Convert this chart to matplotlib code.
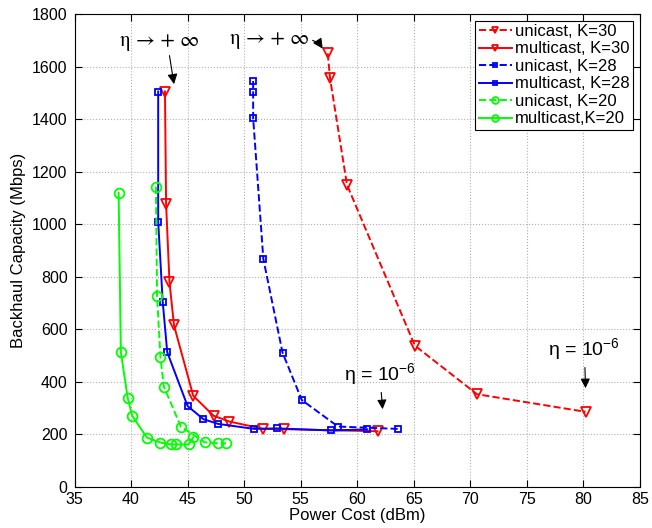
import matplotlib
matplotlib.use('Agg')
import matplotlib.pyplot as plt

plt.rcParams['font.family'] = ['Liberation Sans', 'DejaVu Sans']
plt.rcParams['mathtext.fontset'] = 'custom'
plt.rcParams['mathtext.rm'] = 'Liberation Sans'
plt.rcParams['mathtext.it'] = 'Liberation Sans:italic'

# data (power cost dBm, backhaul capacity Mbps)
uni30_x = [57.4, 57.6, 59.1, 65.1, 70.6, 80.2]
uni30_y = [1650, 1555, 1150, 538, 353, 286]

multi30_x = [43.0, 43.1, 43.4, 43.8, 45.5, 47.3, 48.7, 51.7, 53.5, 61.8]
multi30_y = [1505, 1077, 779, 615, 347, 271, 249, 221, 220, 212]

uni28_x = [50.8, 50.8, 50.8, 51.7, 53.4, 55.1, 58.3, 63.6]
uni28_y = [1545, 1502, 1404, 868, 511, 331, 230, 221]

multi28_x = [42.4, 42.4, 42.8, 43.2, 45.0, 46.4, 47.7, 50.9, 52.9, 57.7, 60.9]
multi28_y = [1505, 1010, 705, 513, 308, 258, 240, 221, 223, 215, 219]

uni20_x = [42.2, 42.3, 42.6, 42.9, 44.4, 46.5, 47.7, 48.4]
uni20_y = [1143, 728, 494, 382, 230, 170, 166, 166]

multi20_x = [38.9, 39.1, 39.7, 40.1, 41.4, 42.6, 43.5, 44.0, 45.1, 45.5]
multi20_y = [1120, 512, 340, 271, 188, 169, 162, 162, 162, 189]

fig = plt.figure(figsize=(6.52, 5.28), dpi=100)
ax = fig.add_axes([0.1143, 0.0777, 0.867, 0.8958])

lw = 1.4
ax.plot(uni30_x, uni30_y, 'r--v', lw=lw, ms=7, mfc='none', mew=1.3, label='unicast, K=30')
ax.plot(multi30_x, multi30_y, 'r-v', lw=lw, ms=7, mfc='none', mew=1.3, label='multicast, K=30')
ax.plot(uni28_x, uni28_y, 'b--s', lw=lw, ms=5, mfc='none', mew=1.3, label='unicast, K=28')
ax.plot(multi28_x, multi28_y, 'b-s', lw=lw, ms=5, mfc='none', mew=1.3, label='multicast, K=28')
ax.plot(uni20_x, uni20_y, '--o', color=(0, 1, 0), lw=lw, ms=7, mfc='none', mew=1.3,
        label='unicast, K=20')
ax.plot(multi20_x, multi20_y, '-o', color=(0, 1, 0), lw=lw, ms=7, mfc='none', mew=1.3,
        label='multicast,K=20')

ax.set_xlim(35, 85)
ax.set_ylim(0, 1800)
ax.set_xticks(range(35, 86, 5))
ax.set_yticks(range(0, 1801, 200))
ax.grid(True, linestyle=':', color='#b0b0b0', lw=0.8)
ax.tick_params(direction='in', top=True, right=True, labelsize=11.5, length=5)
ax.tick_params(axis='y', pad=5)
for s in ax.spines.values():
    s.set_linewidth(0.8)

ax.set_xlabel('Power Cost (dBm)', fontsize=12, labelpad=1)
ax.set_ylabel('Backhaul Capacity (Mbps)', fontsize=12, labelpad=4)

# annotations
serif = ['STIXGeneral', 'DejaVu Serif']
ax.annotate('η → + ∞', xy=(43.8, 1533), xytext=(42.5, 1695),
            fontsize=15, ha='center', va='center', family=serif,
            arrowprops=dict(arrowstyle='-|>', color='k', lw=0.8, shrinkA=1, shrinkB=0,
                            relpos=(0.6, 0.5)))
ax.annotate('η → + ∞', xy=(56.95, 1668), xytext=(52.3, 1705),
            fontsize=15, ha='center', va='center', family=serif,
            arrowprops=dict(arrowstyle='-|>', color='k', lw=0.8, shrinkA=0, shrinkB=0,
                            relpos=(0.95, 0.5), connectionstyle='arc3,rad=-0.25'))
ax.annotate('η = 10$^{-6}$', xy=(80.2, 376), xytext=(80.1, 525),
            fontsize=14, ha='center', va='center',
            arrowprops=dict(arrowstyle='-|>', color='k', lw=0.8, shrinkA=2, shrinkB=0))
ax.annotate('η = 10$^{-6}$', xy=(62.25, 296), xytext=(62.0, 430),
            fontsize=14, ha='center', va='center',
            arrowprops=dict(arrowstyle='-|>', color='k', lw=0.8, shrinkA=2, shrinkB=0))

leg = ax.legend(loc='upper right', fontsize=12, handlelength=2.0, handletextpad=0.2,
                borderpad=0.2, labelspacing=0.15, borderaxespad=0.4, fancybox=False,
                framealpha=1, markerscale=0.7)
leg.get_frame().set_edgecolor('k')
leg.get_frame().set_linewidth(0.8)

plt.savefig('out.png', dpi=100)
